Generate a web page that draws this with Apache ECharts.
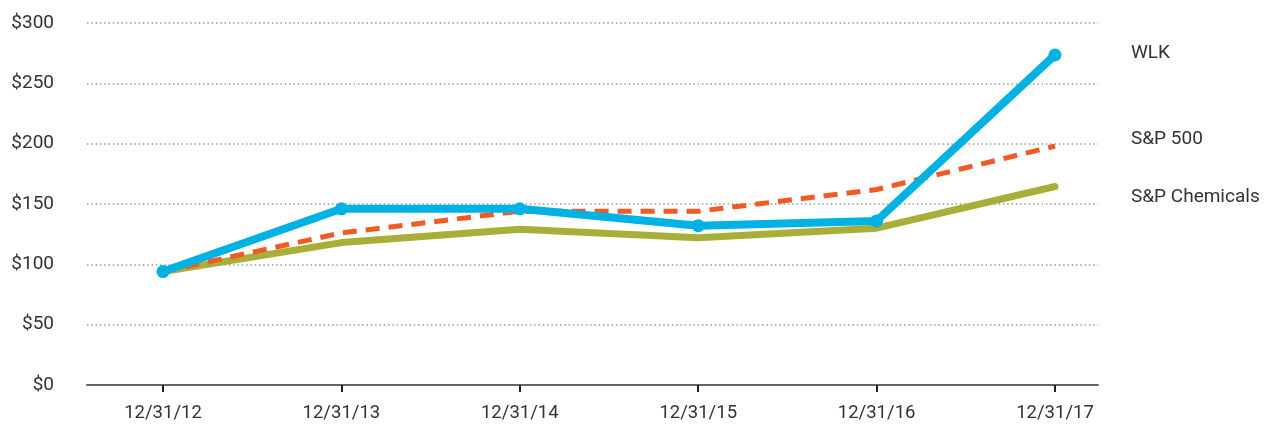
<!DOCTYPE html>
<html style="height: 100%">
<head>
    <meta charset="utf-8">
</head>
<body style="height: 100%; margin: 0">
<div id="container" style="height: 100%"></div>

<script type="text/javascript" src="https://cdn.jsdelivr.net/npm/echarts@6/dist/echarts.min.js"></script>
<script type="text/javascript">
    var dates = ['12/31/12', '12/31/13', '12/31/14', '12/31/15', '12/31/16', '12/31/17'];
    var wlk = [94, 146, 146, 132, 136, 273.5];
    var sp500 = [94, 126, 144, 144, 162, 198];
    var spChem = [94, 118, 129, 122, 130, 164.5];
    var yTicks = [0, 50, 100, 150, 200, 250, 300];

    var font = 'Roboto, "Liberation Sans", sans-serif';

    function pairs(arr) {
        return arr.map(function (v, i) { return [i, v]; });
    }

    var dom = document.getElementById('container');
    var myChart = echarts.init(dom);
    var option;

    option = {
        animation: false,
        backgroundColor: '#fff',
        textStyle: {fontFamily: font},
        grid: {left: 87, right: 166, top: 23, bottom: 40},
        xAxis: {
            type: 'value',
            min: -0.426,
            max: 5.241,
            splitLine: {show: false},
            axisLine: {show: true, lineStyle: {color: '#666', width: 2}},
            axisTick: {
                show: true, length: 7, inside: false,
                customValues: [0, 1, 2, 3, 4, 5],
                lineStyle: {color: '#222', width: 2}
            },
            axisLabel: {
                customValues: [0, 1, 2, 3, 4, 5],
                formatter: function (v) { return dates[Math.round(v)]; },
                color: '#333', fontSize: 18.5, fontFamily: font, margin: 19
            }
        },
        yAxis: {
            type: 'value',
            min: yTicks[0],
            max: yTicks[yTicks.length - 1],
            interval: 50,
            axisLine: {show: false},
            axisTick: {show: false},
            axisLabel: {
                formatter: function (v) { return '$' + v; },
                color: '#333', fontSize: 19, fontFamily: font, margin: 33
            },
            splitLine: {lineStyle: {color: '#999', width: 1.5, type: [1.5, 2.8]}}
        },
        series: [
            {
                name: 'S&P Chemicals',
                type: 'line',
                data: pairs(spChem),
                showSymbol: false,
                lineStyle: {color: '#A9AE38', width: 7, cap: 'round', join: 'round'},
                endLabel: {
                    show: true, formatter: '{a}', distance: 0, offset: [76, 11],
                    color: '#333', fontSize: 19, fontFamily: font
                },
                z: 2
            },
            {
                name: 'S&P 500',
                type: 'line',
                data: pairs(sp500),
                showSymbol: false,
                lineStyle: {color: '#F15A24', width: 5, type: [14, 9]},
                endLabel: {
                    show: true, formatter: '{a}', distance: 0, offset: [76, -7],
                    color: '#333', fontSize: 19, fontFamily: font
                },
                z: 3
            },
            {
                name: 'WLK',
                type: 'line',
                data: pairs(wlk),
                symbol: 'circle',
                symbolSize: 13,
                itemStyle: {color: '#00B2E3'},
                lineStyle: {color: '#00B2E3', width: 8, join: 'round'},
                endLabel: {
                    show: true, formatter: '{a}', distance: 0, offset: [76, -2],
                    color: '#333', fontSize: 19, fontFamily: font
                },
                z: 4
            }
        ]
    };

    if (option && typeof option === 'object') {
        myChart.setOption(option);
    }
</script>
</body>
</html>
